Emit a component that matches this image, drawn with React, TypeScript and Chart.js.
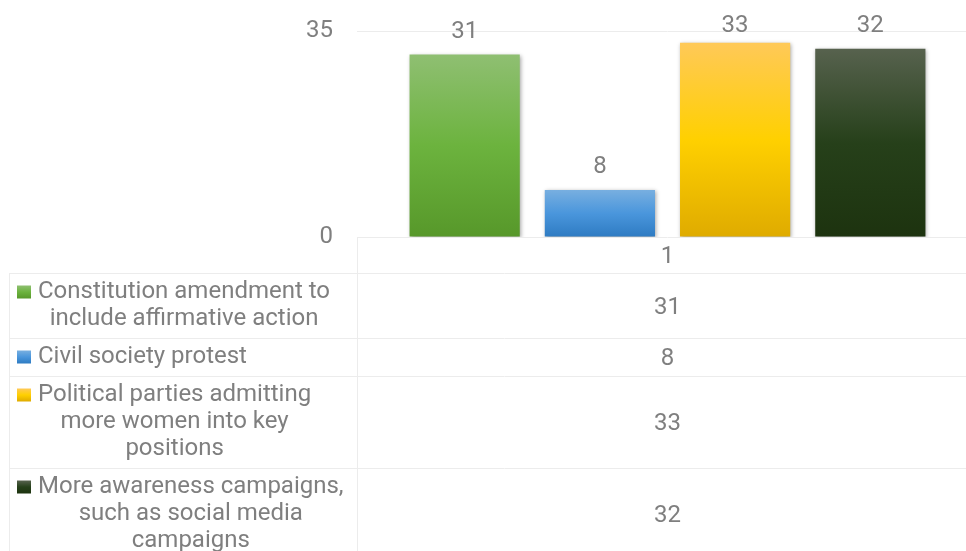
import React, { useEffect, useRef } from "react";
import { Chart, registerables } from "chart.js";

Chart.register(...registerables);

const xCategories = ["1"];
const seriesNames = [
  "Constitution amendment to include affirmative action",
  "Civil society protest",
  "Political parties admitting more women into key positions",
  "More awareness campaigns, such as social media campaigns",
];
const seriesLabelLines = [
  ["Constitution amendment to", "include affirmative action"],
  ["Civil society protest"],
  ["Political parties admitting", "more women into key", "positions"],
  ["More awareness campaigns,", "such as social media", "campaigns"],
];
const seriesValues = [31, 8, 33, 32];
const yTickValues = [0, 35];
const seriesGradients = [
  ["#8fbf72", "#6cb33e", "#57982a"],
  ["#78afe0", "#4a96dc", "#2e7bc2"],
  ["#ffc958", "#ffd000", "#dfab00"],
  ["#57624e", "#26401a", "#1d330f"],
];

const FONT = "Roboto, 'Noto Sans', sans-serif";
const FSIZE = 24;
const TEXT = "#7f7f7f";
const LINE = "#ececec";

function makeGradient(ctx: CanvasRenderingContext2D, top: number, bottom: number, stops: string[]) {
  const g = ctx.createLinearGradient(0, top, 0, bottom);
  g.addColorStop(0, stops[0]);
  g.addColorStop(0.5, stops[1]);
  g.addColorStop(1, stops[2]);
  return g;
}

const shadowPlugin = {
  id: "barShadow",
  beforeDatasetsDraw(chart: any) {
    const ctx = chart.ctx;
    ctx.save();
    ctx.shadowColor = "rgba(0,0,0,0.35)";
    ctx.shadowBlur = 4;
    ctx.shadowOffsetX = 1;
    ctx.shadowOffsetY = 1;
  },
  afterDatasetsDraw(chart: any) {
    const ctx = chart.ctx;
    ctx.restore();
    ctx.save();
    ctx.font = `${FSIZE}px ${FONT}`;
    ctx.fillStyle = TEXT;
    ctx.textAlign = "center";
    ctx.textBaseline = "alphabetic";
    chart.data.datasets.forEach((ds: any, i: number) => {
      const meta = chart.getDatasetMeta(i);
      meta.data.forEach((el: any, j: number) => {
        const baseline = Math.max(32, el.y - 17);
        ctx.fillText(String(ds.data[j]), el.x, baseline);
      });
    });
    ctx.restore();
  },
};

const tablePlugin = {
  id: "dataTable",
  afterDraw(chart: any) {
    const ctx = chart.ctx as CanvasRenderingContext2D;
    const area = chart.chartArea;
    const xs = chart.scales.x;
    const W = chart.width;
    const H = chart.height;
    const leftX = 9;
    const colX = area.left;
    const headerTop = area.bottom;
    const headerBottom = headerTop + 36;
    ctx.save();
    ctx.strokeStyle = LINE;
    ctx.lineWidth = 1;
    const hline = (y: number, x0: number) => {
      ctx.beginPath();
      ctx.moveTo(x0, Math.round(y) + 0.5);
      ctx.lineTo(W, Math.round(y) + 0.5);
      ctx.stroke();
    };
    const vline = (x: number, y0: number) => {
      ctx.beginPath();
      ctx.moveTo(Math.round(x) + 0.5, y0);
      ctx.lineTo(Math.round(x) + 0.5, H);
      ctx.stroke();
    };
    vline(colX, headerTop);
    vline(leftX, headerBottom);
    hline(headerBottom, leftX);

    ctx.font = `${FSIZE}px ${FONT}`;
    ctx.fillStyle = TEXT;
    ctx.textBaseline = "middle";
    ctx.textAlign = "center";
    xCategories.forEach((c, k) => {
      ctx.fillText(c, xs.getPixelForValue(k), (headerTop + headerBottom) / 2 + 2);
    });

    let top = headerBottom;
    seriesLabelLines.forEach((lines, i) => {
      const h = 27 * lines.length + 11;
      const bottom = top + h;
      hline(bottom, leftX);
      const widths = lines.map((l) => ctx.measureText(l).width);
      const maxW = Math.max(...widths);
      const blockLeft = 38;
      const firstY = top + 19;
      ctx.fillStyle = makeGradient(ctx, firstY - 6.5, firstY + 6.5, seriesGradients[i]);
      ctx.fillRect(17, firstY - 6.5, 14, 13);
      ctx.fillStyle = TEXT;
      ctx.textAlign = "center";
      lines.forEach((l, li) => {
        ctx.fillText(l, blockLeft + maxW / 2, firstY + li * 27);
      });
      xCategories.forEach((_c, k) => {
        ctx.fillText(String(chart.data.datasets[i].data[k]), xs.getPixelForValue(k), top + h / 2 + 2);
      });
      top = bottom;
    });
    ctx.restore();
  },
};

export default function App() {
  const ref = useRef<HTMLCanvasElement | null>(null);
  useEffect(() => {
    if (!ref.current) return;
    const chart = new Chart(ref.current, {
      type: "bar",
      data: {
        labels: xCategories,
        datasets: seriesNames.map((name, i) => ({
          label: name,
          data: [seriesValues[i]],
          backgroundColor: (c: any) => {
            const ch = c.chart;
            if (!ch.chartArea || c.raw === undefined) return seriesGradients[i][1];
            const ys = ch.scales.y;
            return makeGradient(ch.ctx, ys.getPixelForValue(c.raw), ys.getPixelForValue(0), seriesGradients[i]);
          },
          borderWidth: 0,
          categoryPercentage: 0.871,
          barPercentage: 0.815,
        })),
      },
      options: {
        responsive: false,
        animation: false,
        devicePixelRatio: 1,
        layout: { padding: { left: 0, right: 22, top: 31, bottom: 314 } },
        plugins: { legend: { display: false }, tooltip: { enabled: false } },
        scales: {
          x: { display: false },
          y: {
            min: 0,
            max: 35,
            afterFit: (s: any) => {
              s.width = 357;
              s.paddingTop = 0;
              s.paddingBottom = 0;
            },
            afterBuildTicks: (s: any) => {
              s.ticks = yTickValues.map((v) => ({ value: v }));
            },
            border: { display: false },
            grid: { color: LINE, drawTicks: false },
            ticks: {
              padding: 24,
              color: TEXT,
              font: { family: FONT, size: FSIZE },
            },
          },
        },
      },
      plugins: [shadowPlugin, tablePlugin],
    } as any);
    return () => chart.destroy();
  }, []);
  return (
    <div style={{ position: "fixed", left: 0, top: 0, width: 966, height: 551, overflow: "hidden", background: "#fff" }}>
      <canvas ref={ref} width={1000} height={551} style={{ display: "block" }} />
    </div>
  );
}
